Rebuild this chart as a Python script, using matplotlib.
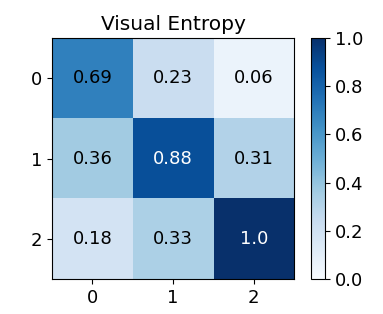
import numpy as np
import matplotlib
matplotlib.use("Agg")
import matplotlib.pyplot as plt

labels = ["0", "1", "2"]
entropy = np.array([
    [0.69, 0.23, 0.06],
    [0.36, 0.88, 0.31],
    [0.18, 0.33, 1.0],
])

fig = plt.figure(figsize=(3.83, 3.14), dpi=100)
ax = fig.add_axes([0.136, 0.111, 0.632, 0.768])
cax = fig.add_axes([0.812, 0.111, 0.036, 0.768])

im = ax.imshow(entropy, cmap="Blues", vmin=0, vmax=1, aspect="auto")
for i in range(entropy.shape[0]):
    for j in range(entropy.shape[1]):
        v = entropy[i, j]
        ax.text(j, i, str(v), ha="center", va="center", fontsize=13,
                color="white" if v > 0.75 else "black")

ax.set_xticks(range(len(labels)))
ax.set_xticklabels(labels)
ax.set_yticks(range(len(labels)))
ax.set_yticklabels(labels)
ax.tick_params(labelsize=13)
ax.set_title("Visual Entropy", fontsize=14.5)

cb = fig.colorbar(im, cax=cax)
cb.ax.tick_params(labelsize=13)
cb.outline.set_linewidth(0.8)

fig.savefig("out.png", dpi=100)
